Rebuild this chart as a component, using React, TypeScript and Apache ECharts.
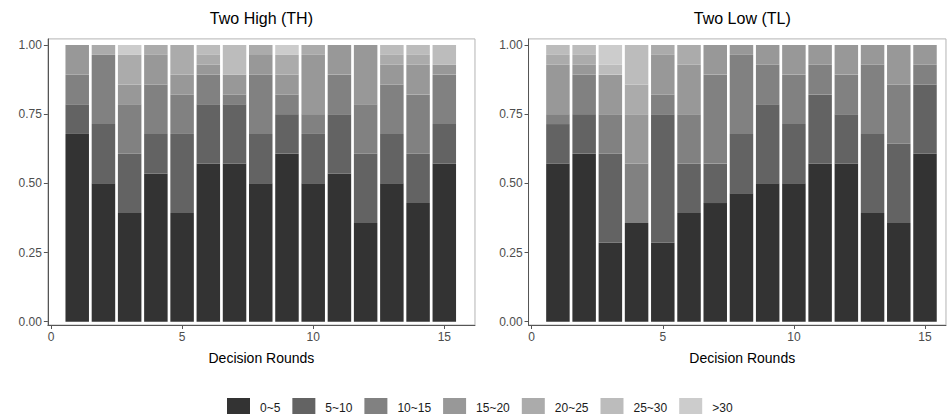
import React, { useEffect, useRef } from "react";
import * as echarts from "echarts";

// Respondents per decision round (each segment is a count out of N)
const N = 28;
const ROUNDS = ["1", "2", "3", "4", "5", "6", "7", "8", "9", "10", "11", "12", "13", "14", "15"];
const CATEGORIES = ["0~5", "5~10", "10~15", "15~20", "20~25", "25~30", ">30"];
const COLORS = ["#333333", "#636363", "#818181", "#989898", "#ABABAB", "#BCBCBC", "#CCCCCC"];
const X_TICKS = [0, 5, 10, 15];
const Y_TICKS = [0, 0.25, 0.5, 0.75, 1];

// Two High (TH)
const TH_0_5 = [19, 14, 11, 15, 11, 16, 16, 14, 17, 14, 15, 10, 14, 12, 16];
const TH_5_10 = [3, 6, 6, 4, 8, 6, 6, 5, 4, 5, 6, 7, 5, 5, 4];
const TH_10_15 = [3, 7, 5, 5, 4, 3, 1, 6, 2, 2, 4, 5, 5, 6, 5];
const TH_15_20 = [3, 0, 2, 3, 2, 1, 2, 2, 2, 6, 3, 6, 2, 3, 1];
const TH_20_25 = [0, 1, 3, 1, 3, 1, 0, 1, 2, 1, 0, 0, 1, 1, 0];
const TH_25_30 = [0, 0, 0, 0, 0, 1, 3, 0, 0, 0, 0, 0, 1, 1, 2];
const TH_GT30 = [0, 0, 1, 0, 0, 0, 0, 0, 1, 0, 0, 0, 0, 0, 0];

// Two Low (TL)
const TL_0_5 = [16, 17, 8, 10, 8, 11, 12, 13, 14, 14, 16, 16, 11, 10, 17];
const TL_5_10 = [4, 4, 9, 0, 13, 5, 4, 6, 8, 6, 7, 5, 8, 8, 7];
const TL_10_15 = [1, 4, 4, 6, 2, 5, 9, 8, 4, 5, 3, 4, 7, 6, 2];
const TL_15_20 = [5, 1, 4, 5, 4, 5, 3, 1, 2, 3, 2, 3, 2, 4, 2];
const TL_20_25 = [1, 1, 0, 3, 1, 2, 0, 0, 0, 0, 0, 0, 0, 0, 0];
const TL_25_30 = [1, 1, 1, 4, 0, 0, 0, 0, 0, 0, 0, 0, 0, 0, 0];
const TL_GT30 = [0, 0, 2, 0, 0, 0, 0, 0, 0, 0, 0, 0, 0, 0, 0];

const TH_SERIES = [TH_0_5, TH_5_10, TH_10_15, TH_15_20, TH_20_25, TH_25_30, TH_GT30];
const TL_SERIES = [TL_0_5, TL_5_10, TL_10_15, TL_15_20, TL_20_25, TL_25_30, TL_GT30];

const FONT = "'Liberation Sans', Arial, sans-serif";

export default function App() {
  const ref = useRef<HTMLDivElement>(null);

  useEffect(() => {
    if (!ref.current) return;
    const chart = echarts.init(ref.current, undefined, { renderer: "svg" });

    const pxPerX = 26.22;
    const pxPerY = 276.7;
    const xMin = -0.12;
    const xMaxL = 16.17;
    const xMaxR = 15.8;
    const yMin = -0.012;
    const yMax = 1.022;
    const zeroXL = 51;
    const zeroXR = 531.7;
    const oneY = 45;

    const top = oneY - (yMax - 1) * pxPerY;
    const height = (yMax - yMin) * pxPerY;

    const frame = {
      show: true,
      borderColor: "#b3b3b3",
      borderWidth: 1,
      backgroundColor: "transparent",
      containLabel: false,
    };
    const plain = { show: false, containLabel: false };

    const grids = [
      { ...frame, left: zeroXL + xMin * pxPerX, top, width: (xMaxL - xMin) * pxPerX, height },
      { ...frame, left: zeroXR + xMin * pxPerX, top, width: (xMaxR - xMin) * pxPerX, height },
      // bar grids span rounds 0.5 .. 15.5 on the same scale
      { ...plain, left: zeroXL + 0.5 * pxPerX, top, width: 15 * pxPerX, height },
      { ...plain, left: zeroXR + 0.5 * pxPerX, top, width: 15 * pxPerX, height },
    ];

    const mkX = (gi: number, max: number) => ({
      type: "value",
      gridIndex: gi,
      min: xMin,
      max,
      splitLine: { show: false },
      axisLine: { show: true, onZero: false, lineStyle: { color: "#555555", width: 1 } },
      axisTick: { show: true, length: 4, customValues: X_TICKS, lineStyle: { color: "#555555" } },
      axisLabel: {
        show: true,
        customValues: X_TICKS,
        margin: 6,
        color: "#4d4d4d",
        fontSize: 12,
        fontFamily: FONT,
        formatter: (v: number) => String(v),
      },
    });

    const mkY = (gi: number) => ({
      type: "value",
      gridIndex: gi,
      min: yMin,
      max: yMax,
      splitLine: { show: false },
      axisLine: { show: true, onZero: false, lineStyle: { color: "#555555", width: 1 } },
      axisTick: { show: true, length: 4, customValues: Y_TICKS, lineStyle: { color: "#555555" } },
      axisLabel: {
        show: true,
        customValues: Y_TICKS,
        margin: 6,
        color: "#4d4d4d",
        fontSize: 12,
        fontFamily: FONT,
        formatter: (v: number) => v.toFixed(2),
      },
    });

    const mkCatX = (gi: number) => ({
      type: "category",
      gridIndex: gi,
      data: ROUNDS,
      boundaryGap: true,
      axisLine: { show: false },
      axisTick: { show: false },
      axisLabel: { show: false },
      splitLine: { show: false },
    });
    const mkHidY = (gi: number) => ({
      type: "value",
      gridIndex: gi,
      min: yMin,
      max: yMax,
      axisLine: { show: false },
      axisTick: { show: false },
      axisLabel: { show: false },
      splitLine: { show: false },
    });

    const series: any[] = [];
    [TH_SERIES, TL_SERIES].forEach((panel, pi) => {
      panel.forEach((counts, ci) => {
        series.push({
          type: "bar",
          name: CATEGORIES[ci],
          stack: pi === 0 ? "TH" : "TL",
          xAxisIndex: pi + 2,
          yAxisIndex: pi + 2,
          barWidth: 23.5,
          itemStyle: { color: COLORS[ci] },
          emphasis: { disabled: true },
          data: counts.map((c) => c / N),
        });
      });
    });

    const panelCenters = [
      zeroXL + ((xMin + xMaxL) / 2) * pxPerX,
      zeroXR + ((xMin + xMaxR) / 2) * pxPerX + 5,
    ];

    const titleStyle = (text: string, size: number) => ({
      text,
      fontSize: size,
      fill: "#000",
      fontFamily: FONT,
      textAlign: "center",
      textVerticalAlign: "middle",
    });

    const option: any = {
      animation: false,
      backgroundColor: "#ffffff",
      grid: grids,
      xAxis: [mkX(0, xMaxL), mkX(1, xMaxR), mkCatX(2), mkCatX(3)],
      yAxis: [mkY(0), mkY(1), mkHidY(2), mkHidY(3)],
      legend: {
        data: CATEGORIES,
        left: 222,
        top: 393,
        icon: "rect",
        itemWidth: 23,
        itemHeight: 19,
        itemGap: 12,
        selectedMode: false,
        textStyle: { fontSize: 12, color: "#1a1a1a", fontFamily: FONT, padding: [0, 0, 0, 5] },
      },
      graphic: [
        { type: "text", x: panelCenters[0], y: 18, style: titleStyle("Two High (TH)", 16) },
        { type: "text", x: panelCenters[1], y: 18, style: titleStyle("Two Low (TL)", 16) },
        { type: "text", x: panelCenters[0], y: 358, style: titleStyle("Decision Rounds", 14) },
        { type: "text", x: panelCenters[1], y: 358, style: titleStyle("Decision Rounds", 14) },
      ],
      series,
    };

    chart.setOption(option);
    return () => chart.dispose();
  }, []);

  return (
    <div
      ref={ref}
      style={{ position: "fixed", left: 0, top: 0, width: 947, height: 414, background: "#fff" }}
    />
  );
}
